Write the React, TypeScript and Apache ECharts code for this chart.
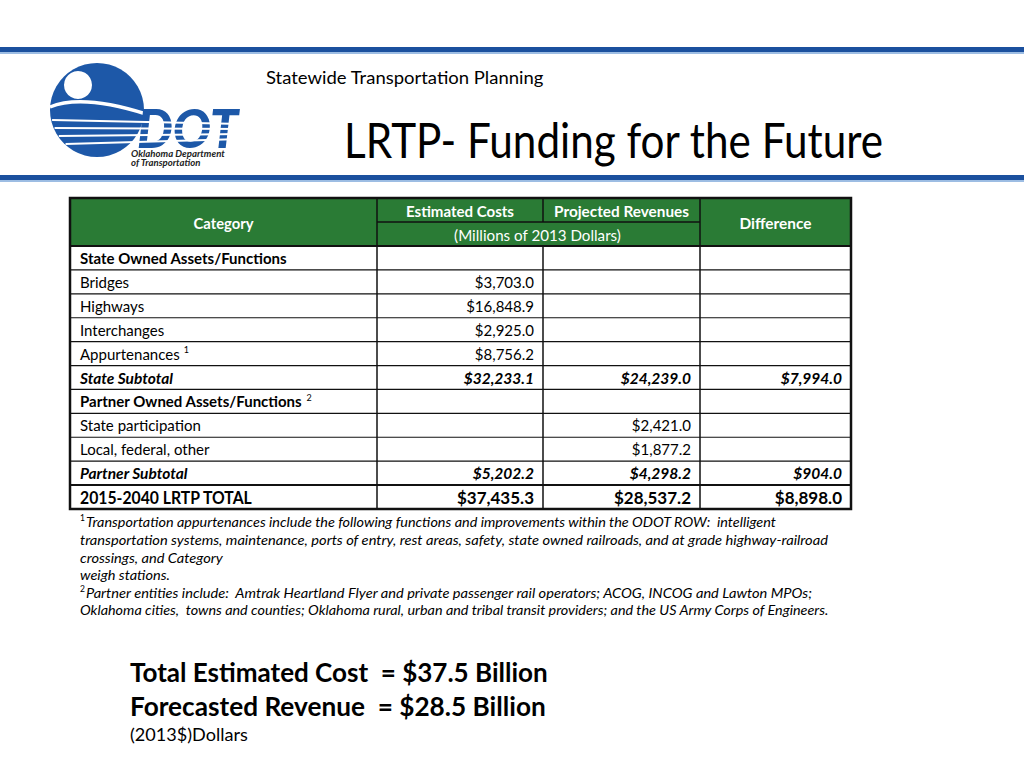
import React, { useEffect, useRef } from "react";
import * as echarts from "echarts";

// ---------- data ----------
const categories = [
  "State Owned Assets/Functions",
  "Bridges",
  "Highways",
  "Interchanges",
  "Appurtenances",
  "State Subtotal",
  "Partner Owned Assets/Functions",
  "State participation",
  "Local, federal, other",
  "Partner Subtotal",
  "2015-2040 LRTP TOTAL",
];
const categoryNotes = ["", "", "", "", "1", "", "2", "", "", "", ""];
const rowKinds = ["heading", "item", "item", "item", "item", "subtotal", "heading", "item", "item", "subtotal", "total"];
const estimatedCosts: (number | null)[] = [null, 3703.0, 16848.9, 2925.0, 8756.2, 32233.1, null, null, null, 5202.2, 37435.3];
const projectedRevenues: (number | null)[] = [null, null, null, null, null, 24239.0, null, 2421.0, 1877.2, 4298.2, 28537.2];
const differences: (number | null)[] = [null, null, null, null, null, 7994.0, null, null, null, 904.0, 8898.0];
const headerLabels = ["Category", "Estimated Costs", "Projected Revenues", "Difference"];
const unitLabel = "(Millions of 2013 Dollars)";
const footnoteLines = [
  "Transportation appurtenances include the following functions and improvements within the ODOT ROW:  intelligent",
  "transportation systems, maintenance, ports of entry, rest areas, safety, state owned railroads, and at grade highway-railroad",
  "crossings, and Category",
  "weigh stations.",
  "Partner entities include:  Amtrak Heartland Flyer and private passenger rail operators; ACOG, INCOG and Lawton MPOs;",
  "Oklahoma cities,  towns and counties; Oklahoma rural, urban and tribal transit providers; and the US Army Corps of Engineers.",
];
const footnoteMarks = ["1", "", "", "", "2", ""];
const summaryLines = ["Total Estimated Cost  = $37.5 Billion", "Forecasted Revenue  = $28.5 Billion"];
const unitNote = "(2013$)Dollars";
const slideSubtitle = "Statewide Transportation Planning";
const slideTitle = "LRTP- Funding for the Future";

// ---------- helpers ----------
const FONT = "Lato, 'Open Sans', sans-serif";
let ctx: CanvasRenderingContext2D | null = null;
function measure(text: string, size: number, weight = "normal", style = "normal") {
  if (!ctx) ctx = document.createElement("canvas").getContext("2d");
  if (!ctx) return text.length * size * 0.5;
  ctx.font = `${style} ${weight} ${size}px Lato`;
  return ctx.measureText(text).width;
}
function fitText(
  text: string,
  x: number,
  y: number,
  size: number,
  targetWidth: number | null,
  opts: { weight?: string; style?: string; fill?: string; align?: string } = {}
) {
  const weight = opts.weight || "normal";
  const style = opts.style || "normal";
  const w = measure(text, size, weight, style);
  const sx = targetWidth ? targetWidth / w : 1;
  return {
    type: "text",
    x,
    y,
    scaleX: sx,
    silent: true,
    style: {
      text,
      fill: opts.fill || "#000",
      fontSize: size,
      fontFamily: FONT,
      fontWeight: weight,
      fontStyle: style,
      textAlign: opts.align || "left",
      textVerticalAlign: "middle",
      textBaseline: "middle",
    },
  };
}
function fmt(v: number | null) {
  if (v === null) return "";
  return "$" + v.toLocaleString("en-US", { minimumFractionDigits: 1, maximumFractionDigits: 1 });
}

function buildGraphics() {
  const els: any[] = [];
  const BLUE = "#1b509e";
  const GREEN = "#2a7b35";

  // top / bottom bars
  els.push({ type: "rect", shape: { x: 0, y: 47, width: 1024, height: 5 }, style: { fill: BLUE } });
  els.push({ type: "rect", shape: { x: 0, y: 52, width: 1024, height: 2 }, style: { fill: "#9dbde3" } });
  els.push({ type: "rect", shape: { x: 0, y: 175, width: 1024, height: 5 }, style: { fill: BLUE } });
  els.push({ type: "rect", shape: { x: 0, y: 180, width: 1024, height: 2 }, style: { fill: "#9dbde3" } });

  // logo
  const cx = 97, cy = 110, r = 47;
  const LOGO = "#1d58a8";
  els.push({ type: "circle", shape: { cx, cy, r }, style: { fill: LOGO } });
  els.push({ type: "circle", shape: { cx: 78, cy: 85, r: 14 }, style: { fill: "#fff" } });
  els.push({
    type: "bezierCurve",
    shape: { x1: 50, y1: 107, cpx1: 72, cpy1: 98, cpx2: 105, cpy2: 101, x2: 146, y2: 114 },
    style: { stroke: "#fff", lineWidth: 3.5, fill: null },
  });
  els.push(fitText("DOT", 137, 128, 53, 101, { weight: "900", style: "italic", fill: LOGO }));
  const stripes = [
    [120, 124],
    [128, 129],
    [136, 134],
    [144, 139],
  ];
  stripes.forEach(([yl, yr]) => {
    const xl = cx - Math.sqrt(Math.max(0, r * r - (yl - cy) * (yl - cy))) + 1;
    els.push({ type: "line", shape: { x1: xl, y1: yl, x2: 242, y2: yr }, style: { stroke: "#fff", lineWidth: 2 } });
  });
  els.push(fitText("Oklahoma Department", 131, 154, 9.5, 94, { weight: "bold", style: "italic", fill: "#222" }));
  els.push(fitText("of Transportation", 131, 163, 9.5, 70, { weight: "bold", style: "italic", fill: "#222" }));

  // titles
  els.push(fitText(slideSubtitle, 266, 77, 17, 278));
  els.push(fitText(slideTitle, 344, 139, 48, 540));

  // table geometry
  const colX = [70, 377, 543, 700, 851];
  const top = 198, headMid = 222, headBot = 246;
  const rowH = (509 - headBot) / categories.length;
  const bottom = 509;

  // header
  els.push({ type: "rect", shape: { x: colX[0], y: top, width: colX[4] - colX[0], height: headBot - top }, style: { fill: GREEN } });
  // body
  els.push({ type: "rect", shape: { x: colX[0], y: headBot, width: colX[4] - colX[0], height: bottom - headBot }, style: { fill: "#fff" } });

  // header text
  const hb = { weight: "bold", fill: "#fff", align: "center" };
  els.push(fitText(headerLabels[0], (colX[0] + colX[1]) / 2, 223, 15.5, 60, hb));
  els.push(fitText(headerLabels[1], (colX[1] + colX[2]) / 2, 211, 15.5, 108, hb));
  els.push(fitText(headerLabels[2], (colX[2] + colX[3]) / 2, 211, 15.5, 135, hb));
  els.push(fitText(headerLabels[3], (colX[3] + colX[4]) / 2, 223, 15.5, 72, hb));
  els.push(fitText(unitLabel, (colX[1] + colX[3]) / 2 - 1, 235, 15.5, 167, { fill: "#fff", align: "center" }));

  // header lines
  const LINE = "#111";
  els.push({ type: "line", shape: { x1: colX[1], y1: top, x2: colX[1], y2: bottom }, style: { stroke: LINE, lineWidth: 1.5 } });
  els.push({ type: "line", shape: { x1: colX[2], y1: top, x2: colX[2], y2: headMid }, style: { stroke: LINE, lineWidth: 1.5 } });
  els.push({ type: "line", shape: { x1: colX[2], y1: headBot, x2: colX[2], y2: bottom }, style: { stroke: LINE, lineWidth: 1.5 } });
  els.push({ type: "line", shape: { x1: colX[3], y1: top, x2: colX[3], y2: bottom }, style: { stroke: LINE, lineWidth: 1.5 } });
  els.push({ type: "line", shape: { x1: colX[1], y1: headMid, x2: colX[3], y2: headMid }, style: { stroke: LINE, lineWidth: 1.5 } });
  els.push({ type: "line", shape: { x1: colX[0], y1: headBot, x2: colX[4], y2: headBot }, style: { stroke: LINE, lineWidth: 2 } });

  // rows
  categories.forEach((cat, i) => {
    const y0 = headBot + rowH * i;
    const yc = y0 + rowH / 2;
    if (i > 0) {
      els.push({ type: "line", shape: { x1: colX[0], y1: y0, x2: colX[4], y2: y0 }, style: { stroke: LINE, lineWidth: i === 10 ? 2 : 1.2 } });
    }
    const kind = rowKinds[i];
    let weight = "normal", style = "normal", size = 15;
    if (kind === "heading") weight = "bold";
    if (kind === "subtotal") { weight = "bold"; style = "italic"; size = 15.5; }
    if (kind === "total") { weight = "bold"; size = 17; }
    const o = { weight, style, fill: "#000" };
    const catW = kind === "total" ? 173 : null;
    els.push(fitText(cat, 80, yc, size, catW, o));
    if (categoryNotes[i]) {
      const w = measure(cat, size, weight, style);
      els.push(fitText(categoryNotes[i], 80 + w + 4, yc - 4, 9, null, { fill: "#000" }));
    }
    const vals = [estimatedCosts[i], projectedRevenues[i], differences[i]];
    vals.forEach((v, k) => {
      if (v === null) return;
      els.push(fitText(fmt(v), colX[k + 2] - 9, yc, size, null, { ...o, align: "right" }));
    });
  });

  // outer border
  els.push({
    type: "rect",
    shape: { x: colX[0], y: top, width: colX[4] - colX[0], height: bottom - top },
    style: { fill: null, stroke: LINE, lineWidth: 2.5 },
  });

  // footnotes
  const fnY = [522, 540, 558, 575, 593, 610];
  const fnW = [697, 749, 143, 90, 735, 750];
  footnoteLines.forEach((line, i) => {
    const mark = footnoteMarks[i];
    const x0 = mark ? 86 : 80;
    const w = mark ? fnW[i] - 6 : fnW[i];
    if (mark) els.push(fitText(mark, 80, fnY[i] - 4, 8.5, null, { fill: "#000" }));
    els.push(fitText(line, x0, fnY[i], 14, w, { style: "italic", fill: "#000" }));
  });

  // summary
  els.push(fitText(summaryLines[0], 130, 672, 26, 418, { weight: "bold" }));
  els.push(fitText(summaryLines[1], 130, 706, 26, 416, { weight: "bold" }));
  els.push(fitText(unitNote, 130, 735, 16.5, 118));

  return els;
}

export default function App() {
  const ref = useRef<HTMLDivElement>(null);
  useEffect(() => {
    if (!ref.current) return;
    const chart = echarts.init(ref.current, null, { renderer: "svg" });
    chart.setOption({
      animation: false,
      backgroundColor: "#ffffff",
      graphic: { elements: buildGraphics() },
    });
    return () => chart.dispose();
  }, []);
  return (
    <div
      ref={ref}
      style={{ position: "fixed", left: 0, top: 0, width: 1024, height: 768, background: "#fff" }}
    />
  );
}
